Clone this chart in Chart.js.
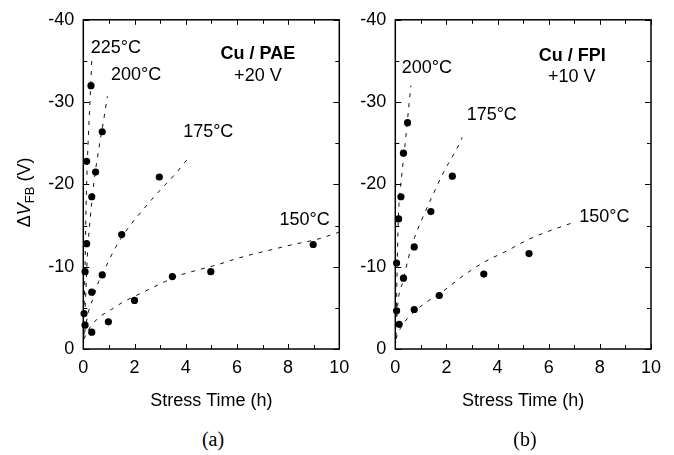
<!DOCTYPE html>
<html>
<head>
<meta charset="utf-8">
<script src="https://cdn.jsdelivr.net/npm/chart.js@4.4.1/dist/chart.umd.min.js"></script>
<style>
  html, body { margin: 0; padding: 0; background: #fff; }
  body { width: 674px; height: 455px; position: relative; overflow: hidden; }
  canvas { position: absolute; top: 0; }
  #chartA { left: 0; }
  #chartB { left: 330px; }
  .caption { position: absolute; top: 429px; width: 60px; text-align: center;
             font: 20px/20px "Liberation Serif", "Times New Roman", serif; color: #000; }
</style>
</head>
<body>
<canvas id="chartA" width="360" height="420"></canvas>
<canvas id="chartB" width="344" height="420"></canvas>
<div class="caption" style="left:183px">(a)</div>
<div class="caption" style="left:495px">(b)</div>
<script>
// (a) Cu / PAE, +20 V -- measured points
const timeA225 = [0.03, 0.07, 0.13, 0.30];
const shiftA225 = [-4.3, -9.4, -22.8, -32.0];
const timeA200 = [0.13, 0.33, 0.48, 0.74];
const shiftA200 = [-12.8, -18.5, -21.5, -26.4];
const timeA175 = [0.07, 0.33, 0.74, 1.50, 2.97];
const shiftA175 = [-2.9, -6.9, -9.0, -13.9, -20.9];
const timeA150 = [0.33, 0.98, 2.00, 3.48, 4.98, 8.98];
const shiftA150 = [-2.05, -3.3, -5.9, -8.8, -9.4, -12.7];

// (a) fitted curves
const fitTimeA225 = [0.0, 0.03, 0.07, 0.10, 0.14, 0.20, 0.26, 0.33];
const fitShiftA225 = [-0.5, -5, -10, -16, -21, -26, -30, -35];
const fitTimeA200 = [0.02, 0.10, 0.17, 0.26, 0.42, 0.60, 0.82, 0.94];
const fitShiftA200 = [-1.5, -7, -12, -15.5, -20.4, -24.2, -28.3, -30.7];
const fitTimeA175 = [0.05, 0.2, 0.4, 0.6, 0.9, 1.25, 1.8, 2.3, 2.6, 3.0, 3.6, 4.1];
const fitShiftA175 = [-2, -4.5, -6.3, -8.2, -10.1, -12.3, -14.9, -16.8, -17.9, -19.3, -21.3, -23.2];
const fitTimeA150 = [0.02, 0.26, 0.6, 1.1, 1.5, 2.4, 3.2, 3.8, 4.6, 5.3, 5.9, 6.6, 7.4, 8.2, 9.1, 10];
const fitShiftA150 = [-1.2, -2.6, -3.8, -4.8, -5.6, -7.0, -8.2, -9.0, -9.7, -10.3, -10.9, -11.5, -12.1, -12.7, -13.3, -14.2];

// (b) Cu / FPI, +10 V -- measured points
const timeB200 = [0.05, 0.13, 0.22, 0.32, 0.48];
const shiftB200 = [-10.45, -15.8, -18.5, -23.8, -27.5];
const timeB175 = [0.05, 0.32, 0.74, 1.39, 2.23];
const shiftB175 = [-4.65, -8.6, -12.4, -16.7, -21.0];
const timeB150 = [0.15, 0.74, 1.72, 3.46, 5.23];
const shiftB150 = [-3.0, -4.8, -6.5, -9.1, -11.6];

// (b) fitted curves
const fitTimeB200 = [0.02, 0.05, 0.08, 0.12, 0.20, 0.30, 0.42, 0.52, 0.61];
const fitShiftB200 = [-1.5, -6, -11, -16, -19.5, -22.5, -26, -29.2, -32];
const fitTimeB175 = [0.02, 0.1, 0.3, 0.5, 0.76, 1.02, 1.45, 1.94, 2.2, 2.4, 2.62];
const fitShiftB175 = [-1.5, -5.5, -8.2, -10.9, -13.6, -15.6, -18.6, -21.8, -23.2, -24.3, -25.7];
const fitTimeB150 = [0.02, 0.2, 0.5, 1.0, 1.9, 2.7, 3.5, 4.35, 5.2, 5.9, 6.9];
const fitShiftB150 = [-1.2, -2.5, -3.8, -5.2, -7.1, -9.0, -10.6, -11.9, -13.3, -14.2, -15.3];

const xTicks = [0, 2, 4, 6, 8, 10];
const yTicks = [-40, -30, -20, -10, 0];

const SANS = '"Liberation Sans", Arial, Helvetica, sans-serif';

const pairs = (xs, ys) => xs.map((x, i) => ({ x, y: ys[i] }));

function pointSet(xs, ys) {
  return {
    data: pairs(xs, ys),
    showLine: false,
    pointRadius: 3.6,
    pointHoverRadius: 3.6,
    pointBackgroundColor: '#000',
    pointBorderWidth: 0,
    clip: false,
  };
}

function fitSet(xs, ys) {
  return {
    data: pairs(xs, ys),
    showLine: true,
    pointRadius: 0,
    borderColor: '#111',
    borderWidth: 1,
    borderDash: [4, 6],
    cubicInterpolationMode: 'monotone',
    fill: false,
  };
}

// box around the plot with inward tick marks on all four sides
const framePlugin = {
  id: 'frame',
  afterDatasetsDraw(chart) {
    const { ctx, chartArea: a, scales: { x, y } } = chart;
    ctx.save();
    ctx.strokeStyle = '#000';
    ctx.lineWidth = 1;
    ctx.beginPath();
    for (let v = x.min; v <= x.max; v += 1) {
      const px = Math.round(x.getPixelForValue(v)) + 0.5;
      const len = v % 2 === 0 ? 5 : 4;
      ctx.moveTo(px, a.bottom); ctx.lineTo(px, a.bottom - len);
      ctx.moveTo(px, a.top); ctx.lineTo(px, a.top + len);
    }
    for (let v = y.min; v <= y.max; v += 5) {
      const py = Math.round(y.getPixelForValue(v)) + 0.5;
      const len = v % 10 === 0 ? 6 : 4;
      ctx.moveTo(a.left, py); ctx.lineTo(a.left + len, py);
      ctx.moveTo(a.right, py); ctx.lineTo(a.right - len, py);
    }
    ctx.stroke();
    ctx.lineWidth = 1.5;
    ctx.strokeRect(a.left, a.top, a.right - a.left, a.bottom - a.top);
    ctx.restore();
  },
};

// temperature labels and panel titles, placed in data coordinates
const notesPlugin = {
  id: 'notes',
  afterDraw(chart, args, opts) {
    const { ctx, scales: { x, y } } = chart;
    ctx.save();
    ctx.fillStyle = '#000';
    ctx.textBaseline = 'middle';
    (opts.items || []).forEach(n => {
      ctx.font = `${n.bold ? 'bold ' : ''}18px ${SANS}`;
      ctx.textAlign = n.align || 'left';
      ctx.fillText(n.text, x.getPixelForValue(n.x), y.getPixelForValue(n.y));
    });
    ctx.restore();
  },
};

// rotated y title with subscript: ΔV_FB (V)
const yTitlePlugin = {
  id: 'yTitle',
  afterDraw(chart, args, opts) {
    if (!opts.show) return;
    const { ctx, chartArea: a } = chart;
    const parts = [
      { t: '\u0394', f: `18px ${SANS}`, dy: 0 },
      { t: 'V', f: `italic 18px ${SANS}`, dy: 0 },
      { t: 'FB', f: `13px ${SANS}`, dy: 5 },
      { t: ' (V)', f: `18px ${SANS}`, dy: 0 },
    ];
    ctx.save();
    let total = 0;
    parts.forEach(p => { ctx.font = p.f; p.w = ctx.measureText(p.t).width; total += p.w; });
    ctx.translate(opts.x, (a.top + a.bottom) / 2 + opts.shift);
    ctx.rotate(-Math.PI / 2);
    ctx.fillStyle = '#000';
    ctx.textBaseline = 'middle';
    ctx.textAlign = 'left';
    let cx = -total / 2;
    parts.forEach(p => { ctx.font = p.f; ctx.fillText(p.t, cx, p.dy); cx += p.w; });
    ctx.restore();
  },
};

function makeChart(id, datasets, yWidth, padRight, notes, showYTitle) {
  return new Chart(document.getElementById(id), {
    type: 'scatter',
    data: { datasets },
    options: {
      responsive: false,
      animation: false,
      events: [],
      layout: { padding: { left: 0, right: padRight, top: 12, bottom: 0 } },
      plugins: {
        legend: { display: false },
        tooltip: { enabled: false },
        notes: { items: notes },
        yTitle: { show: showYTitle, x: 25, shift: 8 },
      },
      scales: {
        x: {
          type: 'linear',
          min: 0,
          max: 10,
          afterBuildTicks: s => { s.ticks = xTicks.map(v => ({ value: v })); },
          afterFit: s => { s.height = 71; },
          grid: { display: false, drawTicks: false },
          border: { display: false },
          ticks: { color: '#000', padding: 8, font: { family: SANS, size: 18 }, callback: v => String(v) },
          title: { display: true, text: 'Stress Time (h)', color: '#000',
                   font: { family: SANS, size: 18 }, padding: { top: 0, bottom: 8 } },
        },
        y: {
          type: 'linear',
          min: -40,
          max: 0,
          reverse: true,
          afterBuildTicks: s => { s.ticks = yTicks.map(v => ({ value: v })); },
          afterFit: s => { s.width = yWidth; },
          grid: { display: false, drawTicks: false },
          border: { display: false },
          ticks: { color: '#000', padding: 9, font: { family: SANS, size: 18 }, callback: v => String(v) },
        },
      },
    },
    plugins: [framePlugin, notesPlugin, yTitlePlugin],
  });
}

makeChart('chartA', [
  pointSet(timeA225, shiftA225),
  pointSet(timeA200, shiftA200),
  pointSet(timeA175, shiftA175),
  pointSet(timeA150, shiftA150),
  fitSet(fitTimeA225, fitShiftA225),
  fitSet(fitTimeA200, fitShiftA200),
  fitSet(fitTimeA175, fitShiftA175),
  fitSet(fitTimeA150, fitShiftA150),
], 83.3, 20.7, [
  { text: '225\u00b0C', x: 0.29, y: -36.6 },
  { text: '200\u00b0C', x: 1.08, y: -33.3 },
  { text: '175\u00b0C', x: 3.9, y: -26.4 },
  { text: '150\u00b0C', x: 7.66, y: -15.7 },
  { text: 'Cu / PAE', x: 6.82, y: -35.8, bold: true, align: 'center' },
  { text: '+20 V', x: 6.82, y: -33.2, align: 'center' },
], true);

makeChart('chartB', [
  pointSet(timeB200, shiftB200),
  pointSet(timeB175, shiftB175),
  pointSet(timeB150, shiftB150),
  fitSet(fitTimeB200, fitShiftB200),
  fitSet(fitTimeB175, fitShiftB175),
  fitSet(fitTimeB150, fitShiftB150),
], 65.3, 23, [
  { text: '200\u00b0C', x: 0.25, y: -34.1 },
  { text: '175\u00b0C', x: 2.79, y: -28.4 },
  { text: '150\u00b0C', x: 7.19, y: -16.0 },
  { text: 'Cu / FPI', x: 6.92, y: -35.6, bold: true, align: 'center' },
  { text: '+10 V', x: 6.9, y: -33.0, align: 'center' },
], false);
</script>
</body>
</html>
